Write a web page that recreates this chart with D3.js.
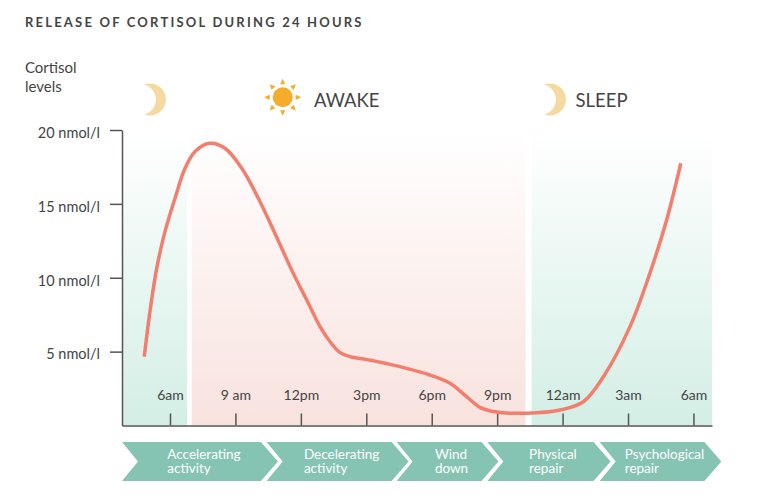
<!DOCTYPE html>
<html>
<head>
<meta charset="utf-8">
<script src="https://cdn.jsdelivr.net/npm/d3@7"></script>
<style>
  body { margin: 0; background: #fff; }
  svg { display: block; font-family: Lato, "Noto Sans", sans-serif; }
  .axis path, .axis line { stroke: #555; stroke-width: 1.5; }
  .axis text { fill: #444; font-family: Lato, "Noto Sans", sans-serif; }
</style>
</head>
<body>
<svg></svg>
<script>
// hours counted from midnight, the second 6am is hour 30
const hours    = [4.82, 5.08, 5.39, 5.77, 6.23, 6.69, 7.14, 7.83, 8.52, 9.29, 10.05, 10.74, 11.65, 12.27, 12.88, 13.34, 13.8, 14.26, 15.02, 16.09, 17.92, 18.84, 19.6, 20.21, 20.98, 22.35, 23.88, 24.95, 25.87, 27.09, 28.0, 28.77, 29.42]
const cortisol = [4.65, 7.7, 10.63, 13.12, 15.38, 17.41, 18.53, 19.1, 18.76, 17.41, 15.38, 13.23, 10.3, 8.49, 6.69, 5.67, 4.93, 4.66, 4.46, 4.14, 3.42, 2.86, 1.95, 1.23, 0.91, 0.83, 1.05, 1.61, 3.3, 6.69, 10.3, 13.91, 17.75]

const tickHours  = [6, 9, 12, 15, 18, 21, 24, 27, 30]
const tickLabels = ["6am", "9 am", "12pm", "3pm", "6pm", "9pm", "12am", "3am", "6am"]
const yTicks     = [5, 10, 15, 20]

const bandStart = [3.8, 7.0, 22.58]
const bandEnd   = [6.78, 22.3, 30.85]
const bandKind  = ["sleep", "awake", "sleep"]

const phaseLines = [["Accelerating", "activity"], ["Decelerating", "activity"], ["Wind", "down"], ["Physical", "repair"], ["Psychological", "repair"]]
const phaseStart = [3.8, 10.43, 16.39, 20.55, 25.7]
const phaseEnd   = [10.17, 16.16, 20.28, 25.42, 30.5]

const svg = d3.select("svg")
  .attr("width", 758)
  .attr("height", 498)

const x = d3.scaleLinear()
  .domain([3.8, 30.85])
  .range([122, 712])

const y = d3.scaleLinear()
  .domain([0, 20])
  .range([425.5, 130])

const defs = svg.append("defs")
const bandColors = { sleep: "#d3eee5", awake: "#f8e2de" }
Object.keys(bandColors).forEach((k) => {
  const g = defs.append("linearGradient")
    .attr("id", "grad-" + k)
    .attr("x1", 0).attr("y1", 0).attr("x2", 0).attr("y2", 1)
  g.append("stop").attr("offset", "0%").attr("stop-color", bandColors[k]).attr("stop-opacity", 0)
  g.append("stop").attr("offset", "100%").attr("stop-color", bandColors[k]).attr("stop-opacity", 1)
})

// background bands
svg.append("g")
  .selectAll("rect")
  .data(bandStart)
  .enter()
  .append("rect")
  .attr("x", (d) => x(d))
  .attr("y", y(20))
  .attr("width", (d, i) => x(bandEnd[i]) - x(d))
  .attr("height", y(0) - y(20))
  .attr("fill", (d, i) => `url(#grad-${bandKind[i]})`)

// title and axis caption
svg.append("text")
  .attr("x", 25).attr("y", 26.5)
  .attr("fill", "#444")
  .attr("font-size", 13)
  .attr("font-weight", 700)
  .attr("letter-spacing", 2.2)
  .text("RELEASE OF CORTISOL DURING 24 HOURS")

const caption = svg.append("text")
  .attr("fill", "#444")
  .attr("font-size", 15)
caption.append("tspan").attr("x", 25).attr("y", 73).text("Cortisol")
caption.append("tspan").attr("x", 25).attr("y", 92).text("levels")

// moons and sun
const moon = function(tx, ty) {
  svg.append("path")
    .attr("transform", `translate(${tx}, ${ty})`)
    .attr("d", "M0,-15 A16.1,16.1 0 1 1 0,15 A15.4,15.4 0 0 0 0,-15 Z")
    .attr("fill", "#f4d9a0")
}
moon(144, 99.5)
moon(544, 99.5)

const sun = svg.append("g").attr("transform", "translate(282.7, 97.3)")
sun.append("circle").attr("r", 10).attr("fill", "#f6ab2c")
d3.range(8).forEach((i) => {
  sun.append("path")
    .attr("d", "M-2.6,-13 L0,-18.5 L2.6,-13 Z")
    .attr("transform", `rotate(${i * 45})`)
    .attr("fill", "#f6ab2c")
})

svg.append("text")
  .attr("x", 314).attr("y", 106.5)
  .attr("fill", "#444").attr("font-size", 18.5)
  .text("AWAKE")

svg.append("text")
  .attr("x", 575.5).attr("y", 106.5)
  .attr("fill", "#444").attr("font-size", 18.5)
  .text("SLEEP")

// axes
const axisY = d3.axisLeft(y)
  .tickValues(yTicks)
  .tickSizeInner(12)
  .tickSizeOuter(0)
  .tickPadding(10)
  .tickFormat((d) => d + " nmol/l")

svg.append("g")
  .attr("class", "axis y-axis")
  .attr("transform", `translate(${x(3.8)}, 0)`)
  .call(axisY)
  .call((g) => g.selectAll("text").attr("font-size", 14.5).attr("dy", "0.5em"))

const axisX = d3.axisBottom(x)
  .tickValues(tickHours)
  .tickSizeInner(-12)
  .tickSizeOuter(0)
  .tickFormat((d, i) => tickLabels[i])

svg.append("g")
  .attr("class", "axis x-axis")
  .attr("transform", `translate(0, ${y(0)})`)
  .call(axisX)
  .call((g) => g.selectAll("text").attr("font-size", 14).attr("y", -26).attr("dy", 0))

// cortisol curve
const line = d3.line()
  .x((d) => x(d))
  .y((d, i) => y(cortisol[i]))
  .curve(d3.curveCatmullRom.alpha(0.5))

svg.append("path")
  .datum(hours)
  .attr("d", line)
  .attr("fill", "none")
  .attr("stroke", "#f47e6d")
  .attr("stroke-width", 3.5)
  .attr("stroke-linecap", "butt")

// phase chevrons
const chevTop = 442, chevBottom = 481, chevMid = (chevTop + chevBottom) / 2, tip = 17, notch = 16

const phases = svg.append("g")
  .selectAll("g.phase")
  .data(phaseLines)
  .enter()
  .append("g")
  .attr("class", "phase")

phases.append("path")
  .attr("d", (d, i) => {
    const a = x(phaseStart[i]), b = x(phaseEnd[i])
    return `M${a},${chevTop} L${b},${chevTop} L${b + tip},${chevMid} L${b},${chevBottom} L${a},${chevBottom} L${a + notch},${chevMid} Z`
  })
  .attr("fill", "#85c4b2")

phases.each(function(d, i) {
  const g = d3.select(this)
  const t = g.append("text")
    .attr("fill", "#fff")
    .attr("font-size", 13.5)
  d.forEach((s, j) => {
    t.append("tspan").attr("x", 0).attr("y", 458.5 + j * 14).text(s)
  })
  const w = t.node().getBBox().width
  const c = (x(phaseStart[i]) + notch + x(phaseEnd[i]) + tip) / 2 - 4
  t.selectAll("tspan").attr("x", c - w / 2)
})
</script>
</body>
</html>
